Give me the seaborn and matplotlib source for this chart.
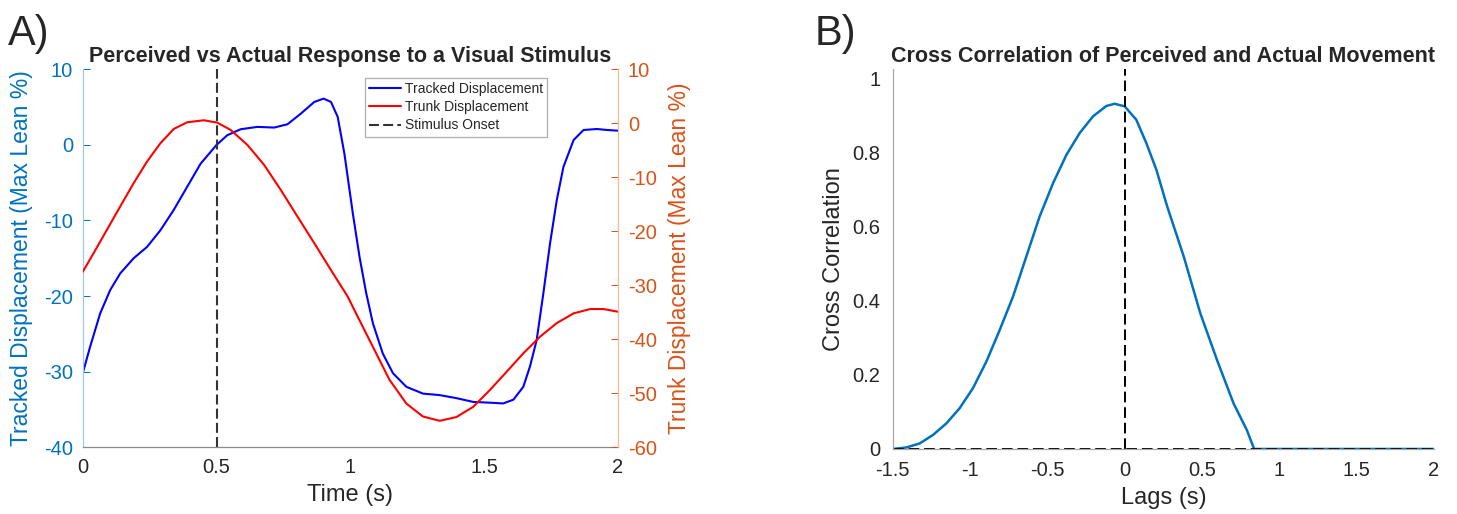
import matplotlib
matplotlib.use("Agg")
import matplotlib.pyplot as plt
import seaborn as sns
import pandas as pd

# panel A: perceived (tracked) vs actual (trunk) displacement
time_tracked = [0.0, 0.0275, 0.065, 0.1025, 0.14, 0.19, 0.24, 0.29, 0.34, 0.39,
                0.44, 0.5, 0.54, 0.59, 0.6525, 0.715, 0.765, 0.815, 0.865, 0.9,
                0.9275, 0.9525, 0.9775, 1.009, 1.034, 1.059, 1.084, 1.121, 1.159, 1.209,
                1.271, 1.334, 1.396, 1.459, 1.521, 1.571, 1.609, 1.646, 1.671, 1.696,
                1.721, 1.746, 1.771, 1.796, 1.834, 1.871, 1.921, 1.959, 2.0]
tracked = [-30.2, -26.7, -22.3, -19.2, -17.0, -15.0, -13.5, -11.3, -8.6, -5.55,
           -2.5, 0.0, 1.28, 2.07, 2.38, 2.29, 2.73, 4.14, 5.68, 6.12,
           5.68, 3.7, -1.15, -9.05, -14.8, -19.6, -23.6, -27.6, -30.2, -32.0,
           -32.9, -33.1, -33.5, -34.0, -34.1, -34.2, -33.7, -32.0, -29.3, -25.8,
           -19.6, -13.0, -7.3, -2.9, 0.65, 1.97, 2.1, 1.97, 1.88]

time_trunk = [0.0, 0.04, 0.09, 0.14, 0.19, 0.24, 0.29, 0.34, 0.39, 0.4525,
              0.5025, 0.5525, 0.615, 0.6775, 0.74, 0.8025, 0.865, 0.9275, 0.99, 1.021,
              1.084, 1.146, 1.209, 1.271, 1.334, 1.396, 1.459, 1.521, 1.584, 1.646,
              1.709, 1.771, 1.834, 1.896, 1.946, 2.0]
trunk = [-27.5, -24.1, -19.75, -15.4, -11.1, -7.1, -3.7, -1.05, 0.19, 0.56,
         0.12, -1.23, -4.0, -7.7, -12.35, -17.3, -22.2, -27.2, -32.1, -35.2,
         -41.4, -47.5, -51.9, -54.3, -55.1, -54.4, -52.5, -49.4, -46.0, -42.6,
         -39.5, -37.0, -35.2, -34.4, -34.4, -34.9]

stimulus_onset = 0.5

# panel B: cross correlation
lags = [-1.5, -1.412, -1.325, -1.239, -1.153, -1.067, -0.981, -0.894, -0.808, -0.722,
        -0.636, -0.55, -0.463, -0.377, -0.291, -0.205, -0.119, -0.065, 0.0, 0.075,
        0.14, 0.205, 0.275, 0.382, 0.489, 0.597, 0.704, 0.79, 0.837, 1.0,
        1.5, 2.0]
xcorr = [0.0, 0.004, 0.015, 0.038, 0.069, 0.11, 0.164, 0.236, 0.321, 0.411,
         0.519, 0.627, 0.717, 0.793, 0.852, 0.897, 0.925, 0.931, 0.924, 0.888,
         0.825, 0.753, 0.654, 0.519, 0.366, 0.24, 0.123, 0.051, 0.0, 0.0,
         0.0, 0.0]

blue_ax = '#0072BD'
orange_ax = '#D95319'
dark = '#262626'

sns.set_style('white')
plt.rcParams['font.family'] = ['Liberation Sans', 'DejaVu Sans']
plt.rcParams['axes.unicode_minus'] = False
plt.rcParams['xtick.direction'] = 'in'
plt.rcParams['ytick.direction'] = 'in'

fig = plt.figure(figsize=(14.57, 5.14), dpi=100)
ax1 = fig.add_axes([0.0568, 0.1298, 0.3674, 0.7354])
ax2 = ax1.twinx()
ax3 = fig.add_axes([0.6127, 0.1265, 0.3715, 0.7387])

df_tr = pd.DataFrame({'t': time_tracked, 'v': tracked})
df_tk = pd.DataFrame({'t': time_trunk, 'v': trunk})

sns.lineplot(data=df_tr, x='t', y='v', ax=ax1, color='#0000FF', lw=1.5,
             label='Tracked Displacement', legend=False)
ax1.plot([], [], color='#FF0000', lw=1.5, label='Trunk Displacement')
ax1.axvline(stimulus_onset, color='#333333', ls=(0, (4.8, 2.0)), lw=1.5,
            label='Stimulus Onset')
sns.lineplot(data=df_tk, x='t', y='v', ax=ax2, color='#FF0000', lw=1.5, legend=False)

ax1.set_xlim(0, 2)
ax1.set_ylim(-40, 10)
ax2.set_ylim(-60, 10)
ax1.set_xticks([0, 0.5, 1, 1.5, 2])
ax1.set_xticklabels(['0', '0.5', '1', '1.5', '2'])
ax1.set_yticks([-40, -30, -20, -10, 0, 10])
ax2.set_yticks([-60, -50, -40, -30, -20, -10, 0, 10])

ax1.set_xlabel('Time (s)', fontsize=17, color=dark, labelpad=5)
ax1.set_ylabel('Tracked Displacement (Max Lean %)', fontsize=16.5, color=blue_ax, labelpad=8)
ax2.set_ylabel('Trunk Displacement (Max Lean %)', fontsize=16.5, color=orange_ax, labelpad=8)
ax1.set_title('Perceived vs Actual Response to a Visual Stimulus', fontsize=15.5,
              fontweight='bold', pad=5)

ax1.tick_params(axis='x', labelsize=14.5, colors=dark, length=5, width=0.7, pad=8)
ax1.tick_params(axis='y', labelsize=14.5, colors=blue_ax, length=5, width=0.7, pad=7)
ax2.tick_params(axis='y', labelsize=14.5, colors=orange_ax, length=5, width=0.7, pad=7)

for a in (ax1, ax2):
    a.spines['top'].set_visible(False)
ax1.spines['left'].set_color('#9fcbea')
ax1.spines['bottom'].set_color('#8a8a8a')
ax1.spines['right'].set_visible(False)
ax2.spines['left'].set_visible(False)
ax2.spines['bottom'].set_visible(False)
ax2.spines['right'].set_color('#efb8a0')
for s in ax1.spines.values():
    s.set_linewidth(0.9)
ax2.spines['right'].set_linewidth(0.9)

leg = ax1.legend(loc='upper left', bbox_to_anchor=(0.527, 0.977), fontsize=10,
                 frameon=True, fancybox=False, edgecolor='#9a9a9a',
                 handlelength=2.3, handletextpad=0.3, borderpad=0.3,
                 labelspacing=0.3, borderaxespad=0)
leg.get_frame().set_linewidth(0.9)

# panel B
df_xc = pd.DataFrame({'lag': lags, 'r': xcorr})
sns.lineplot(data=df_xc, x='lag', y='r', ax=ax3, color=blue_ax, lw=1.8, legend=False)
ax3.axvline(0, color='black', ls=(0, (5.5, 2.5)), lw=1.4)
ax3.axhline(0, color='black', ls=(0, (5.5, 2.5)), lw=1.4)
ax3.set_xlim(-1.5, 2)
ax3.set_ylim(0, 1.024)
ax3.set_xticks([-1.5, -1, -0.5, 0, 0.5, 1, 1.5, 2])
ax3.set_xticklabels(['-1.5', '-1', '-0.5', '0', '0.5', '1', '1.5', '2'])
ax3.set_yticks([0, 0.2, 0.4, 0.6, 0.8, 1])
ax3.set_yticklabels(['0', '0.2', '0.4', '0.6', '0.8', '1'])
ax3.set_xlabel('Lags (s)', fontsize=17, color=dark, labelpad=5)
ax3.set_ylabel('Cross Correlation', fontsize=17, color=dark, labelpad=5)
ax3.set_title('Cross Correlation of Perceived and Actual Movement', fontsize=15.5,
              fontweight='bold', pad=5)
ax3.tick_params(labelsize=14.5, colors=dark, length=5, width=0.7)
ax3.tick_params(axis='x', pad=9)
ax3.tick_params(axis='y', pad=9)
ax3.spines['top'].set_visible(False)
ax3.spines['right'].set_visible(False)
ax3.spines['left'].set_color('#a8a8a8')
ax3.spines['bottom'].set_color('#a8a8a8')
for s in ax3.spines.values():
    s.set_linewidth(0.9)

fig.text(0.0055, 0.912, 'A)', fontsize=30, va='baseline')
fig.text(0.5594, 0.912, 'B)', fontsize=30, va='baseline')

fig.savefig('out.png', dpi=100)
